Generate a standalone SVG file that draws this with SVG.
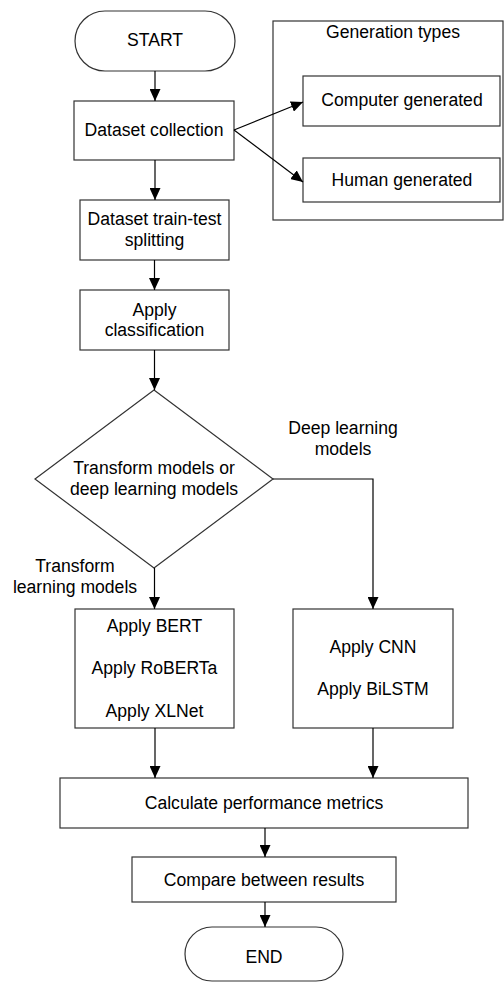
<svg xmlns="http://www.w3.org/2000/svg" width="504" height="982" viewBox="0 0 504 982">
<defs>
<marker id="ah" markerUnits="userSpaceOnUse" markerWidth="13" markerHeight="11" refX="12" refY="5.5" orient="auto">
<path d="M0,0 L12,5.5 L0,11 z" fill="#000"/>
</marker>
<style>
.box{fill:#fff;stroke:#333;stroke-width:1.2}
.c{fill:none;stroke:#000;stroke-width:1.2}
.a{marker-end:url(#ah)}
text{font-family:"Liberation Sans",Arial,sans-serif;font-size:17.6px;fill:#000;text-anchor:middle}
</style>
</defs>
<rect width="504" height="982" fill="#fff"/>
<g id="generation-types">
<rect class="box" x="273" y="21" width="230" height="199"/>
<text x="393" y="38">Generation types</text>
</g>
<g id="computer-generated">
<rect class="box" x="303" y="76" width="197" height="50"/>
<text x="402" y="106">Computer generated</text>
</g>
<g id="human-generated">
<rect class="box" x="303" y="158" width="197" height="44"/>
<text x="402" y="186">Human generated</text>
</g>
<g id="start">
<rect class="box" x="75" y="11" width="160" height="60" rx="30" ry="30"/>
<text x="155" y="46">START</text>
</g>
<g id="dataset-collection">
<rect class="box" x="74" y="101" width="160" height="59"/>
<text x="154" y="136">Dataset collection</text>
</g>
<g id="train-test">
<rect class="box" x="80" y="200" width="149" height="60"/>
<text x="154.5" y="225">Dataset train-test</text>
<text x="154.5" y="246">splitting</text>
</g>
<g id="apply-classification">
<rect class="box" x="80" y="290" width="149" height="60"/>
<text x="154.5" y="316">Apply</text>
<text x="154.5" y="336">classification</text>
</g>
<g id="decision">
<polygon class="box" points="154,390 273,479 154,568 35,479"/>
<text x="154" y="474">Transform models or</text>
<text x="154" y="495">deep learning models</text>
</g>
<g id="transformers">
<rect class="box" x="75" y="609" width="159" height="119"/>
<text x="154.5" y="632">Apply BERT</text>
<text x="154.5" y="674">Apply RoBERTa</text>
<text x="154.5" y="717">Apply XLNet</text>
</g>
<g id="deep-learning">
<rect class="box" x="293" y="609" width="160" height="119"/>
<text x="373" y="653">Apply CNN</text>
<text x="373" y="695">Apply BiLSTM</text>
</g>
<g id="performance">
<rect class="box" x="60" y="778" width="408" height="50"/>
<text x="264" y="809">Calculate performance metrics</text>
</g>
<g id="compare">
<rect class="box" x="132" y="857" width="264" height="45"/>
<text x="264" y="886">Compare between results</text>
</g>
<g id="end">
<rect class="box" x="185" y="927" width="158" height="54" rx="27" ry="27"/>
<text x="264" y="963">END</text>
</g>
<g id="connectors">
<line class="c a" x1="155" y1="71" x2="155" y2="101"/>
<line class="c a" x1="234" y1="130" x2="303" y2="102"/>
<line class="c a" x1="234" y1="130" x2="303" y2="182"/>
<line class="c a" x1="155" y1="160" x2="155" y2="200"/>
<line class="c a" x1="154.5" y1="260" x2="154.5" y2="290"/>
<line class="c a" x1="154.5" y1="350" x2="154.5" y2="390"/>
<line class="c a" x1="154.5" y1="568" x2="154.5" y2="609"/>
<polyline class="c a" points="273,479 373,479 373,609"/>
<line class="c a" x1="155" y1="728" x2="155" y2="778"/>
<line class="c a" x1="373" y1="728" x2="373" y2="778"/>
<line class="c a" x1="265" y1="828" x2="265" y2="857"/>
<line class="c a" x1="265" y1="902" x2="265" y2="927"/>
<text x="75" y="572">Transform</text>
<text x="75" y="593">learning models</text>
<text x="343" y="434">Deep learning</text>
<text x="343" y="455">models</text>
</g>
</svg>
